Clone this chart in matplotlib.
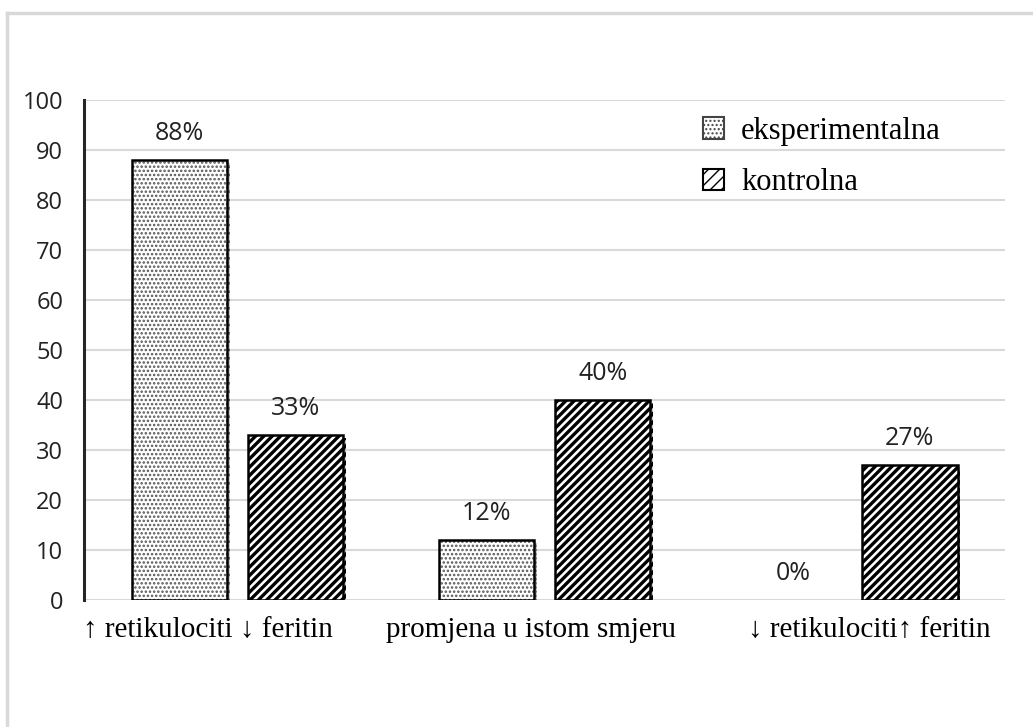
import numpy as np
import matplotlib
matplotlib.use("Agg")
import matplotlib.pyplot as plt
import matplotlib.patheffects as pe
from matplotlib.lines import Line2D
from matplotlib.transforms import ScaledTranslation

# %% data
categories = ["\u2191 retikulociti \u2193 feritin", "promjena u istom smjeru",
              "\u2193 retikulociti\u2191 feritin"]
eksperimentalna = [88, 12, 0]
kontrolna = [33, 40, 27]
series_names = ["eksperimentalna", "kontrolna"]
yticks = list(range(0, 101, 10))

# %% figure
fig = plt.figure(figsize=(10.33, 7.27), dpi=100)
ax = fig.add_axes([0.0813, 0.1747, 0.8917, 0.6877])

# light frame around the chart area (top + left only, like the source)
fig.add_artist(Line2D([7/1033, 1.0], [1-13/727, 1-13/727], color="#d9d9d9", lw=2.5,
                      transform=fig.transFigure))
fig.add_artist(Line2D([7/1033, 7/1033], [0.0, 1-13/727], color="#d9d9d9", lw=2.5,
                      transform=fig.transFigure))

x = np.arange(len(categories))
w = 0.31
off = 0.19
shadow = [pe.SimplePatchShadow(offset=(2, -2), shadow_rgbFace="#999999", alpha=0.5),
          pe.Normal()]

# experimental: grey dots, then black outline on top
b1 = ax.bar(x - off, eksperimentalna, w, color="white", edgecolor="#555555",
            hatch="....", linewidth=0, zorder=3)
o1 = ax.bar(x - off, eksperimentalna, w, facecolor="none", edgecolor="black",
            linewidth=1.8, zorder=4)
# control: thick black stripes
b2 = ax.bar(x + off, kontrolna, w, color="white", edgecolor="black",
            hatch="////", linewidth=1.8, zorder=3)
for p in b2:
    if hasattr(p, "set_hatch_linewidth"):
        p.set_hatch_linewidth(2.4)
    p.set_path_effects(shadow)
for p, q, v in zip(b1, o1, eksperimentalna):
    if hasattr(p, "set_hatch_linewidth"):
        p.set_hatch_linewidth(1.2)
    if v > 0:
        p.set_path_effects(shadow)
    else:
        q.set_linewidth(0)

# value labels
for xi, v in zip(x - off, eksperimentalna):
    ax.text(xi, v + 4, f"{v}%", ha="center", va="baseline", fontsize=18,
            family="Open Sans", color="#222222")
for xi, v in zip(x + off, kontrolna):
    ax.text(xi, v + 4, f"{v}%", ha="center", va="baseline", fontsize=18,
            family="Open Sans", color="#222222")

ax.set_xlim(-0.5, 2.5)
ax.set_ylim(0, 100)
ax.set_yticks(yticks)
ax.set_yticklabels([str(t) for t in yticks], family="Open Sans", fontsize=17,
                   color="#222222")
ax.tick_params(axis="y", length=0, pad=15)
ax.set_xticks(x)
ax.set_xticklabels(categories, family=["Liberation Serif", "DejaVu Serif"],
                   fontsize=21)
ax.tick_params(axis="x", length=0, pad=12)
# source labels sit a little off the group centres
for lab, dx in zip(ax.get_xticklabels(), [-30, -14, 18]):
    lab.set_transform(lab.get_transform() + ScaledTranslation(dx / 100, 0, fig.dpi_scale_trans))

ax.grid(axis="y", color="#d9d9d9", linewidth=1.5, zorder=0)
ax.set_axisbelow(True)
for s in ["top", "right", "bottom"]:
    ax.spines[s].set_visible(False)
ax.spines["left"].set_linewidth(2.2)
ax.spines["left"].set_color("#262626")

# legend
h1 = plt.Rectangle((0, 0), 1, 1, facecolor="white", edgecolor="#444444",
                   hatch="....", linewidth=1.5)
h2 = plt.Rectangle((0, 0), 1, 1, facecolor="white", edgecolor="black",
                   hatch="///", linewidth=1.5)
leg = ax.legend([h1, h2], series_names, loc="upper left",
                bbox_to_anchor=(0.642, 1.022), frameon=False,
                prop={"family": "Liberation Serif", "size": 22},
                handlelength=0.7, handleheight=0.7, handletextpad=0.55,
                labelspacing=0.75)

fig.savefig("out.png", dpi=100)
